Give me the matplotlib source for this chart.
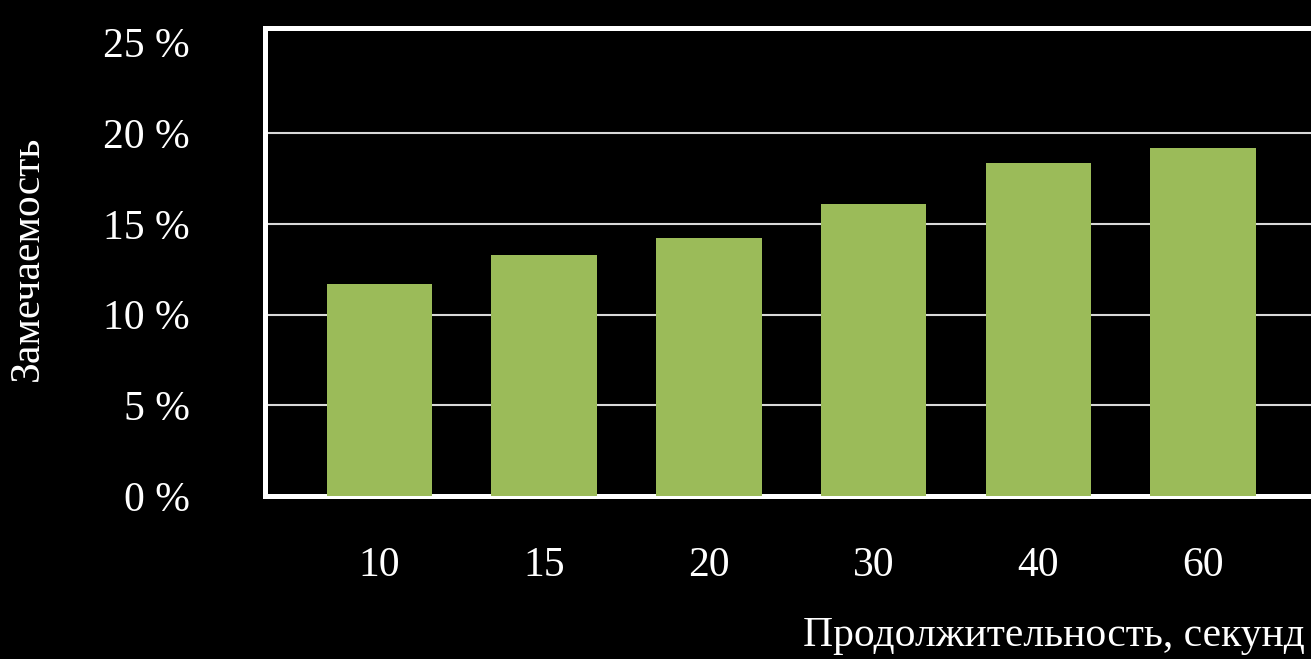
import matplotlib
matplotlib.use("Agg")
import matplotlib.pyplot as plt

durations = ["10", "15", "20", "30", "40", "60"]
noticeability = [11.7, 13.3, 14.2, 16.1, 18.35, 19.2]
y_ticks = [0, 5, 10, 15, 20, 25]
y_labels = ["0 %", "5 %", "10 %", "15 %", "20 %", "25 %"]

plt.rcParams['font.family'] = ['Liberation Serif', 'DejaVu Serif']

fig = plt.figure(figsize=(13.11, 6.59), dpi=100, facecolor='black')
ax = fig.add_axes([265 / 1311, 1 - 496 / 659, 1 - 265 / 1311, (496 - 28) / 659])
ax.set_facecolor('black')

x = range(len(durations))
ax.bar(x, noticeability, width=0.64, color='#9BBB59', zorder=3)

ax.set_xlim(-0.695, 5.656)
ax.set_ylim(0, 25.8)
ax.set_xticks(list(x))
ax.set_xticklabels(durations)
ax.set_yticks(y_ticks)
ax.set_yticklabels(y_labels)
ax.tick_params(axis='both', length=0, colors='white', labelsize=30)
ax.tick_params(axis='y', pad=54)
ax.tick_params(axis='x', pad=36)

# horizontal gridlines, excluding the top
for v in y_ticks[1:-1]:
    ax.axhline(v, color='#d9d9d9', lw=1.5, zorder=1)

for side in ['left', 'top', 'bottom']:
    ax.spines[side].set_color('white')
    ax.spines[side].set_linewidth(3.6)
    ax.spines[side].set_zorder(2)
ax.spines['right'].set_visible(False)

fig.text(0.995, 1 - 636 / 659, "Продолжительность, секунд", color='white',
         fontsize=30, ha='right', va='center')
fig.text(28 / 1311, 1 - 258 / 659, "Замечаемость", color='white',
         fontsize=30, ha='center', va='center', rotation=90)

fig.savefig("out.png", dpi=100, facecolor='black')
